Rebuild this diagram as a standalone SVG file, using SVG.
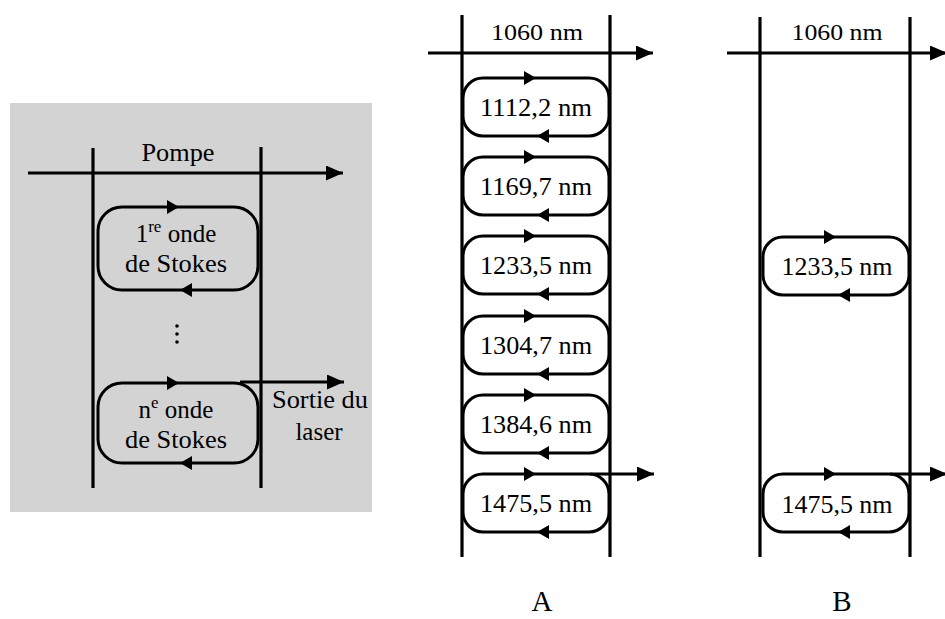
<svg xmlns="http://www.w3.org/2000/svg" xmlns:xlink="http://www.w3.org/1999/xlink" width="945" height="619" viewBox="0 0 945 619" font-family="'Liberation Serif', 'Times New Roman', serif">
<style>
.t{font-family:'Liberation Serif','Times New Roman',serif;fill:#000}
.v{stroke:#000;stroke-width:3.2;fill:none}
.bx{stroke:#000;stroke-width:3;fill:none}
.ln{stroke:#000;stroke-width:2.8;fill:none}
</style>
<defs>
<marker id="mh" markerUnits="userSpaceOnUse" markerWidth="18" markerHeight="16" refX="17" refY="7.5" orient="auto" viewBox="0 0 18 16">
<path d="M0,0 L17,7.5 L0,15 Z" fill="#000"/>
</marker>
<path id="ar" d="M0,0 L-12,-7 L-12,7 Z" fill="#000"/>
<path id="al" d="M0,0 L12,-7 L12,7 Z" fill="#000"/>
</defs>

<rect x="10" y="103" width="362" height="409" fill="#d3d3d3"/>

<g id="connectors">
<line class="v" x1="93" y1="148" x2="93" y2="488"/>
<line class="v" x1="261" y1="147" x2="261" y2="488"/>
<line class="ln" x1="28" y1="173" x2="343" y2="173" marker-end="url(#mh)"/>
<line class="ln" x1="240" y1="382" x2="344" y2="382" marker-end="url(#mh)"/>

<line class="v" x1="462" y1="15" x2="462" y2="557"/>
<line class="v" x1="610" y1="15" x2="610" y2="557"/>
<line class="ln" x1="428" y1="53" x2="653" y2="53" marker-end="url(#mh)"/>
<line class="ln" x1="590" y1="474" x2="654" y2="474" marker-end="url(#mh)"/>

<line class="v" x1="760" y1="17" x2="760" y2="557"/>
<line class="v" x1="910" y1="17" x2="910" y2="557"/>
<line class="ln" x1="727" y1="53" x2="947" y2="53" marker-end="url(#mh)"/>
<line class="ln" x1="890" y1="474" x2="947" y2="474" marker-end="url(#mh)"/>
</g>

<g id="left-labels">
<text class="t" x="178" y="161" font-size="25" text-anchor="middle" textLength="73" lengthAdjust="spacingAndGlyphs">Pompe</text>
<circle cx="177" cy="326" r="1.8" fill="#000"/>
<circle cx="177" cy="334" r="1.8" fill="#000"/>
<circle cx="177" cy="342" r="1.8" fill="#000"/>
<text class="t" x="272" y="408" font-size="25" textLength="96" lengthAdjust="spacingAndGlyphs">Sortie du</text>
<text class="t" x="319" y="440" font-size="25" text-anchor="middle">laser</text>
</g>

<g id="stokes1">
<rect class="bx" x="98" y="207" width="160" height="83" rx="24"/>
<use xlink:href="#ar" x="179" y="207"/>
<use xlink:href="#al" x="180" y="290"/>
<text class="t" x="176" y="242" font-size="25" text-anchor="middle">1<tspan font-size="17" dy="-10">re</tspan><tspan dy="10"> onde</tspan></text>
<text class="t" x="176" y="272" font-size="25" text-anchor="middle" textLength="102" lengthAdjust="spacingAndGlyphs">de Stokes</text>
</g>

<g id="stokesN">
<rect class="bx" x="98" y="383" width="160" height="80" rx="24"/>
<use xlink:href="#ar" x="179" y="383"/>
<use xlink:href="#al" x="180" y="463"/>
<text class="t" x="176" y="418" font-size="25" text-anchor="middle">n<tspan font-size="17" dy="-10">e</tspan><tspan dy="10"> onde</tspan></text>
<text class="t" x="176" y="448" font-size="25" text-anchor="middle" textLength="102" lengthAdjust="spacingAndGlyphs">de Stokes</text>
</g>

<g id="A-pump">
<text class="t" x="537" y="40" font-size="24" text-anchor="middle" textLength="92" lengthAdjust="spacingAndGlyphs">1060 nm</text>
</g>

<g id="A1">
<rect class="bx" x="463" y="78" width="146" height="58" rx="20"/>
<use xlink:href="#ar" x="536" y="78"/><use xlink:href="#al" x="537" y="136"/>
<text class="t" x="536" y="116" font-size="25" text-anchor="middle" textLength="112" lengthAdjust="spacingAndGlyphs">1112,2 nm</text>
</g>
<g id="A2">
<rect class="bx" x="463" y="157" width="146" height="58" rx="20"/>
<use xlink:href="#ar" x="536" y="157"/><use xlink:href="#al" x="537" y="215"/>
<text class="t" x="536" y="195" font-size="25" text-anchor="middle" textLength="112" lengthAdjust="spacingAndGlyphs">1169,7 nm</text>
</g>
<g id="A3">
<rect class="bx" x="463" y="236" width="146" height="58" rx="20"/>
<use xlink:href="#ar" x="536" y="236"/><use xlink:href="#al" x="537" y="294"/>
<text class="t" x="536" y="274" font-size="25" text-anchor="middle" textLength="112" lengthAdjust="spacingAndGlyphs">1233,5 nm</text>
</g>
<g id="A4">
<rect class="bx" x="463" y="316" width="146" height="58" rx="20"/>
<use xlink:href="#ar" x="536" y="316"/><use xlink:href="#al" x="537" y="374"/>
<text class="t" x="536" y="354" font-size="25" text-anchor="middle" textLength="112" lengthAdjust="spacingAndGlyphs">1304,7 nm</text>
</g>
<g id="A5">
<rect class="bx" x="463" y="395" width="146" height="58" rx="20"/>
<use xlink:href="#ar" x="536" y="395"/><use xlink:href="#al" x="537" y="453"/>
<text class="t" x="536" y="433" font-size="25" text-anchor="middle" textLength="112" lengthAdjust="spacingAndGlyphs">1384,6 nm</text>
</g>
<g id="A6">
<rect class="bx" x="463" y="474" width="146" height="58" rx="20"/>
<use xlink:href="#ar" x="536" y="474"/><use xlink:href="#al" x="537" y="532"/>
<text class="t" x="536" y="512" font-size="25" text-anchor="middle" textLength="112" lengthAdjust="spacingAndGlyphs">1475,5 nm</text>
</g>
<g id="labelA"><text class="t" x="542" y="611" font-size="29" text-anchor="middle">A</text></g>

<g id="B-pump">
<text class="t" x="837" y="40" font-size="24" text-anchor="middle" textLength="91" lengthAdjust="spacingAndGlyphs">1060 nm</text>
</g>
<g id="B3">
<rect class="bx" x="763" y="237" width="146" height="58" rx="20"/>
<use xlink:href="#ar" x="836" y="237"/><use xlink:href="#al" x="838" y="295"/>
<text class="t" x="837" y="275" font-size="25" text-anchor="middle" textLength="111" lengthAdjust="spacingAndGlyphs">1233,5 nm</text>
</g>
<g id="B6">
<rect class="bx" x="763" y="474" width="146" height="58" rx="20"/>
<use xlink:href="#ar" x="836" y="474"/><use xlink:href="#al" x="838" y="532"/>
<text class="t" x="837" y="513" font-size="25" text-anchor="middle" textLength="111" lengthAdjust="spacingAndGlyphs">1475,5 nm</text>
</g>
<g id="labelB"><text class="t" x="842" y="611" font-size="29" text-anchor="middle">B</text></g>
</svg>
